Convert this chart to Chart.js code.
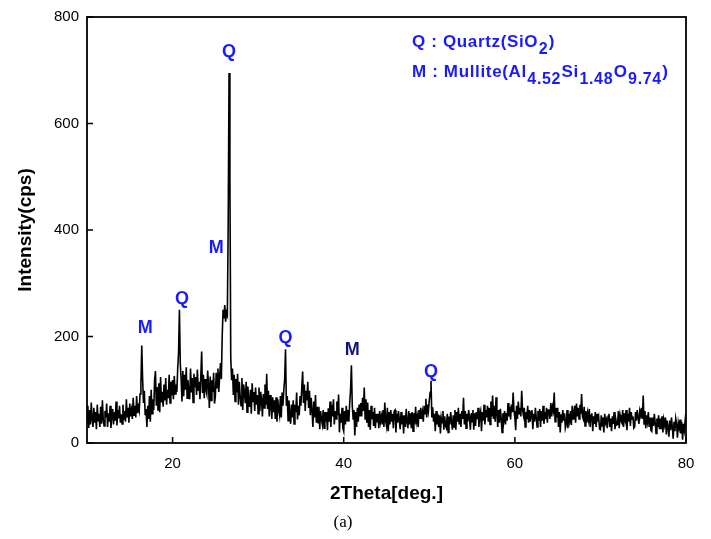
<!DOCTYPE html>
<html>
<head>
<meta charset="utf-8">
<script src="https://cdn.jsdelivr.net/npm/chart.js@4.4.1/dist/chart.umd.min.js"></script>
<style>
  html, body { margin: 0; padding: 0; background: #fff; }
</style>
</head>
<body>
<canvas id="xrd" width="711" height="539"></canvas>
<script>
// scan grid of the diffractometer (deg.)
const scanStart = 10;
const scanStep = 0.1;

// intensity (cps), one row per degree
const counts10to20 = [
  40, 70, 28, 62, 35, 76, 45, 30, 66, 38,
  58, 26, 72, 42, 55, 30, 68, 36, 80, 44,
  32, 60, 48, 74, 30, 56, 40, 70, 28, 52,
  64, 35, 58, 42, 78, 33, 62, 46, 70, 38,
  54, 36, 72, 44, 60, 40, 82, 48, 66, 38,
  74, 50, 62, 45, 85, 52, 70, 48, 88, 56,
  68, 60, 92, 110, 183, 120, 75, 98, 52, 64,
  30, 70, 45, 88, 40, 100, 55, 82, 62, 118,
  135, 70, 105, 62, 112, 58, 124, 76, 96, 68,
  110, 80, 122, 72, 100, 84, 128, 75, 115, 90
];
const counts20to30 = [
  118, 82, 126, 92, 110, 96, 140, 170, 250, 150,
  120, 78, 135, 88, 128, 100, 142, 84, 118, 92,
  82, 140, 95, 122, 76, 130, 105, 124, 90, 138,
  98, 115, 82, 126, 172, 94, 128, 84, 120, 100,
  92, 136, 110, 66, 125, 80, 118, 96, 132, 74,
  88, 132, 104, 140, 96, 125, 150, 120, 200, 250,
  234, 259, 228, 245, 240, 410, 695, 500, 160, 118,
  140, 90, 128, 78, 120, 95, 130, 72, 115, 88,
  70, 122, 62, 110, 95, 75, 115, 58, 106, 80,
  68, 100, 55, 112, 78, 96, 60, 104, 72, 90
];
const counts30to40 = [
  55, 104, 60, 96, 80, 50, 92, 66, 110, 72,
  130, 64, 98, 50, 90, 70, 45, 86, 58, 80,
  45, 86, 40, 82, 62, 52, 88, 48, 95, 70,
  100, 120, 176, 70, 88, 42, 80, 55, 36, 72,
  48, 80, 36, 72, 58, 95, 44, 70, 52, 88,
  70, 105, 134, 75, 110, 60, 98, 80, 115, 66,
  98, 52, 85, 60, 30, 78, 48, 90, 38, 68,
  38, 68, 26, 60, 45, 35, 62, 28, 58, 40,
  58, 24, 65, 40, 78, 30, 72, 50, 82, 35,
  60, 45, 78, 52, 91, 20, 55, 38, 66, 28
];
const counts40to50 = [
  22, 60, 35, 70, 42, 62, 40, 75, 100, 146,
  70, 45, 62, 14, 58, 30, 66, 40, 72, 50,
  75, 50, 85, 60, 104, 45, 82, 38, 76, 30,
  62, 25, 70, 45, 58, 32, 66, 28, 55, 40,
  55, 28, 60, 40, 50, 35, 62, 30, 76, 42,
  32, 66, 22, 58, 35, 62, 40, 55, 28, 60,
  62, 20, 55, 38, 60, 44, 26, 58, 35, 52,
  18, 52, 30, 64, 40, 28, 60, 35, 56, 28,
  58, 22, 56, 35, 68, 40, 50, 30, 62, 45,
  66, 45, 58, 40, 70, 55, 83, 48, 72, 60
];
const counts50to60 = [
  80, 95, 117, 48, 67, 40, 55, 22, 60, 35,
  55, 30, 52, 18, 48, 38, 60, 25, 50, 32,
  28, 55, 20, 50, 35, 58, 40, 25, 52, 30,
  62, 25, 58, 40, 66, 35, 55, 30, 60, 45,
  85, 35, 60, 28, 55, 40, 62, 48, 25, 56,
  40, 62, 25, 56, 32, 58, 45, 66, 30, 52,
  60, 22, 58, 42, 72, 35, 62, 48, 70, 40,
  66, 35, 78, 50, 89, 45, 70, 40, 86, 55,
  30, 62, 38, 64, 48, 20, 56, 42, 60, 35,
  56, 42, 75, 50, 68, 44, 72, 58, 95, 60
];
const counts60to70 = [
  48, 24, 70, 45, 78, 55, 66, 50, 98, 62,
  52, 66, 30, 58, 45, 70, 38, 62, 40, 58,
  62, 26, 55, 40, 66, 48, 30, 60, 42, 64,
  30, 60, 42, 70, 36, 58, 45, 66, 38, 62,
  62, 45, 75, 50, 68, 60, 95, 40, 66, 48,
  66, 30, 58, 20, 54, 38, 62, 42, 56, 28,
  35, 62, 28, 55, 42, 60, 34, 70, 45, 58,
  70, 38, 74, 50, 66, 45, 72, 55, 92, 50,
  45, 68, 32, 60, 38, 56, 44, 64, 30, 52,
  56, 22, 50, 36, 58, 30, 55, 40, 48, 26
];
const counts70to80 = [
  25, 52, 32, 48, 20, 55, 38, 44, 28, 50,
  55, 30, 46, 22, 50, 36, 58, 26, 44, 34,
  35, 60, 28, 52, 42, 38, 62, 30, 56, 44,
  62, 24, 55, 40, 66, 32, 58, 45, 50, 28,
  30, 58, 42, 62, 48, 36, 60, 52, 66, 45,
  89, 36, 60, 28, 52, 40, 58, 30, 48, 24,
  22, 48, 32, 55, 38, 18, 46, 30, 52, 26,
  46, 26, 50, 20, 44, 34, 48, 16, 42, 30,
  12, 42, 24, 48, 30, 8, 40, 22, 46, 35,
  10, 38, 28, 44, 18, 40, 6, 36, 24, 42, 28
];

// axis ticks
const xTickValues = [20, 40, 60, 80];
const yTickValues = [0, 200, 400, 600, 800];

// phase labels over the peaks (angle, cps where the letter sits)
const peakPhases = ["M", "Q", "Q", "M", "Q", "M", "Q"];
const labelAngles = [16.8, 21.1, 26.6, 25.1, 33.2, 41.0, 50.2];
const labelCounts = [215, 270, 735, 367, 198, 174, 133];

const allCounts = [].concat(counts10to20, counts20to30, counts30to40,
  counts40to50, counts50to60, counts60to70, counts70to80);
const pattern = allCounts.map((c, i) => ({ x: +(scanStart + i * scanStep).toFixed(1), y: c }));

const BLUE = "#1a1aff";
const NAVY = "#14147a";
const labelColours = [BLUE, BLUE, BLUE, BLUE, BLUE, NAVY, BLUE];
const SANS = "'Liberation Sans', Arial, sans-serif";

// frame, inward ticks, peak letters and the phase key
const decorations = {
  id: "decorations",
  afterDatasetsDraw(chart) {
    const { ctx, chartArea: a, scales: { x, y } } = chart;
    ctx.save();
    ctx.strokeStyle = "#000";
    ctx.lineWidth = 1.8;
    ctx.strokeRect(a.left, a.top, a.right - a.left, a.bottom - a.top);

    ctx.lineWidth = 1.5;
    ctx.beginPath();
    xTickValues.forEach(v => {
      const px = x.getPixelForValue(v);
      ctx.moveTo(px, a.bottom);
      ctx.lineTo(px, a.bottom - 6);
    });
    yTickValues.forEach(v => {
      const py = y.getPixelForValue(v);
      ctx.moveTo(a.left, py);
      ctx.lineTo(a.left + 6, py);
    });
    ctx.stroke();

    ctx.font = "bold 18px " + SANS;
    ctx.textAlign = "center";
    ctx.textBaseline = "middle";
    peakPhases.forEach((p, i) => {
      ctx.fillStyle = labelColours[i];
      ctx.fillText(p, x.getPixelForValue(labelAngles[i]), y.getPixelForValue(labelCounts[i]));
    });

    // key with subscripts
    const keyLines = [
      [["Q : Quartz(SiO", 0], ["2", 1], [")", 0]],
      [["M : Mullite(Al", 0], ["4.52", 1], ["Si", 0], ["1.48", 1], ["O", 0], ["9.74", 1], [")", 0]]
    ];
    ctx.fillStyle = BLUE;
    ctx.textAlign = "left";
    ctx.textBaseline = "alphabetic";
    ctx.letterSpacing = "0.65px";
    keyLines.forEach((line, li) => {
      let cx = a.left + 325;
      const base = a.top + 29.5 + li * 30.2;
      line.forEach(([txt, sub]) => {
        ctx.font = (sub ? "bold 16px " : "bold 17px ") + SANS;
        ctx.fillText(txt, cx, base + (sub ? 7 : 0));
        cx += ctx.measureText(txt).width + 0.5;
      });
    });
    ctx.restore();
  }
};

new Chart(document.getElementById("xrd"), {
  type: "scatter",
  data: {
    datasets: [{
      data: pattern,
      showLine: true,
      borderColor: "#000",
      borderWidth: 1.6,
      pointRadius: 0,
      tension: 0
    }]
  },
  options: {
    responsive: false,
    animation: false,
    layout: { padding: { top: 11, right: 25, left: 0, bottom: 0 } },
    plugins: {
      legend: { display: false },
      tooltip: { enabled: false },
      title: {
        display: true,
        position: "bottom",
        text: "(a)",
        color: "#000",
        font: { family: "'Liberation Serif', 'Times New Roman', serif", size: 17, weight: "normal" },
        padding: { top: 0, bottom: 6 }
      }
    },
    scales: {
      x: {
        type: "linear",
        min: 10,
        max: 80,
        afterBuildTicks: s => { s.ticks = xTickValues.map(v => ({ value: v })); },
        afterFit: s => { s.height = 69.6; },
        grid: { display: false, drawTicks: false },
        border: { display: false },
        ticks: {
          color: "#000",
          padding: 12,
          maxRotation: 0,
          font: { family: SANS, size: 15 }
        },
        title: {
          display: true,
          text: "2Theta[deg.]",
          color: "#000",
          font: { family: SANS, size: 19, weight: "bold" },
          padding: { top: 0, bottom: 7 }
        }
      },
      y: {
        min: 0,
        max: 800,
        afterBuildTicks: s => { s.ticks = yTickValues.map(v => ({ value: v })); },
        afterFit: s => { s.width = 87; },
        grid: { display: false, drawTicks: false },
        border: { display: false },
        ticks: {
          color: "#000",
          padding: 8,
          font: { family: SANS, size: 15 }
        },
        title: {
          display: true,
          text: "Intensity(cps)",
          color: "#000",
          font: { family: SANS, size: 19, weight: "bold" },
          padding: { top: 14, bottom: 0 }
        }
      }
    }
  },
  plugins: [decorations]
});
</script>
</body>
</html>
